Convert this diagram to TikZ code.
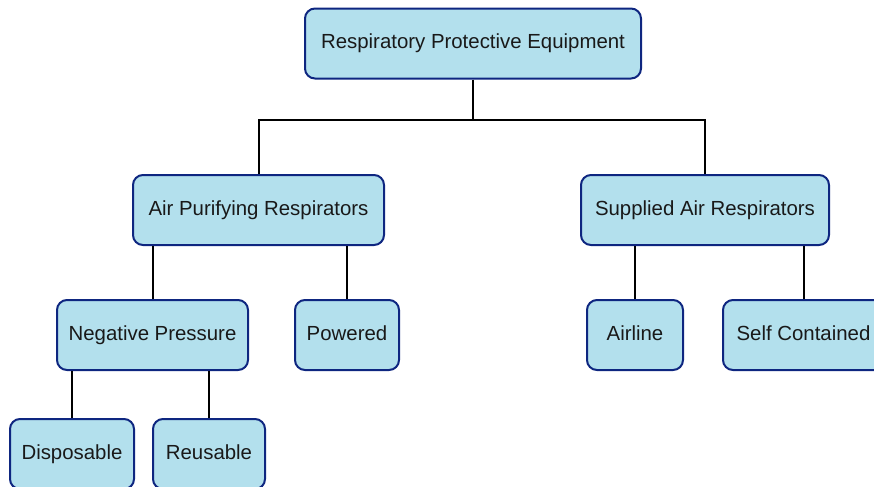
\documentclass[tikz,border=0pt]{standalone}
\usepackage{fontspec}
\setmainfont{Liberation Sans}
\usepackage{tikz}
\usetikzlibrary{positioning}
\definecolor{boxfill}{RGB}{179,224,237}
\definecolor{boxline}{RGB}{14,38,128}
\definecolor{textcol}{RGB}{25,25,25}
\tikzset{
  catbox/.style={draw=boxline, fill=boxfill, line width=1.5pt, rounded corners=7.5pt,
    minimum height=52.5pt, inner sep=0pt, text=textcol, text height=10.5pt, text depth=2.5pt,
    font=\fontsize{15.3pt}{18pt}\selectfont},
  link/.style={line width=1.5pt, black}
}
\begin{document}
\begin{tikzpicture}[x=0.75pt,y=0.75pt,yscale=-1,xscale=1]
%frame of the picture
\useasboundingbox (0,0) rectangle (874,486);
\clip (0,0) rectangle (874,486);

%top level
\node (root) [catbox, minimum width=252pt] at (473,43.5) {Respiratory Protective Equipment};
\coordinate (rootjoin) at (473,120);

%second level
\node (apr) [catbox, minimum width=188.25pt] at (258.5,210) {Air Purifying Respirators};
\node (sar) [catbox, minimum width=186pt] at (705,210) {Supplied Air Respirators};

%third level
\node (neg) [catbox, minimum width=143.25pt] at (152.5,335) {Negative Pressure};
\node (pow) [catbox, minimum width=78pt] at (347,335) {Powered};
\node (air) [catbox, minimum width=72pt] at (635,335) {Airline};
\node (self) [catbox, minimum width=120.75pt] at (803.5,335) {Self Contained};

%fourth level
\node (disp) [catbox, minimum width=93pt] at (72,454) {Disposable};
\node (reus) [catbox, minimum width=84pt] at (209,454) {Reusable};

%connectors
\draw [link] (root.south) -- (rootjoin);
\draw [link] (apr.north) |- (rootjoin) -| (sar.north);
\draw [link] (neg.north) -- (neg.north |- apr.south);
\draw [link] (pow.north) -- (pow.north |- apr.south);
\draw [link] (air.north) -- (air.north |- sar.south);
\draw [link] (self.north) -- (self.north |- sar.south);
\draw [link] (disp.north) -- (disp.north |- neg.south);
\draw [link] (reus.north) -- (reus.north |- neg.south);

\end{tikzpicture}
\end{document}
